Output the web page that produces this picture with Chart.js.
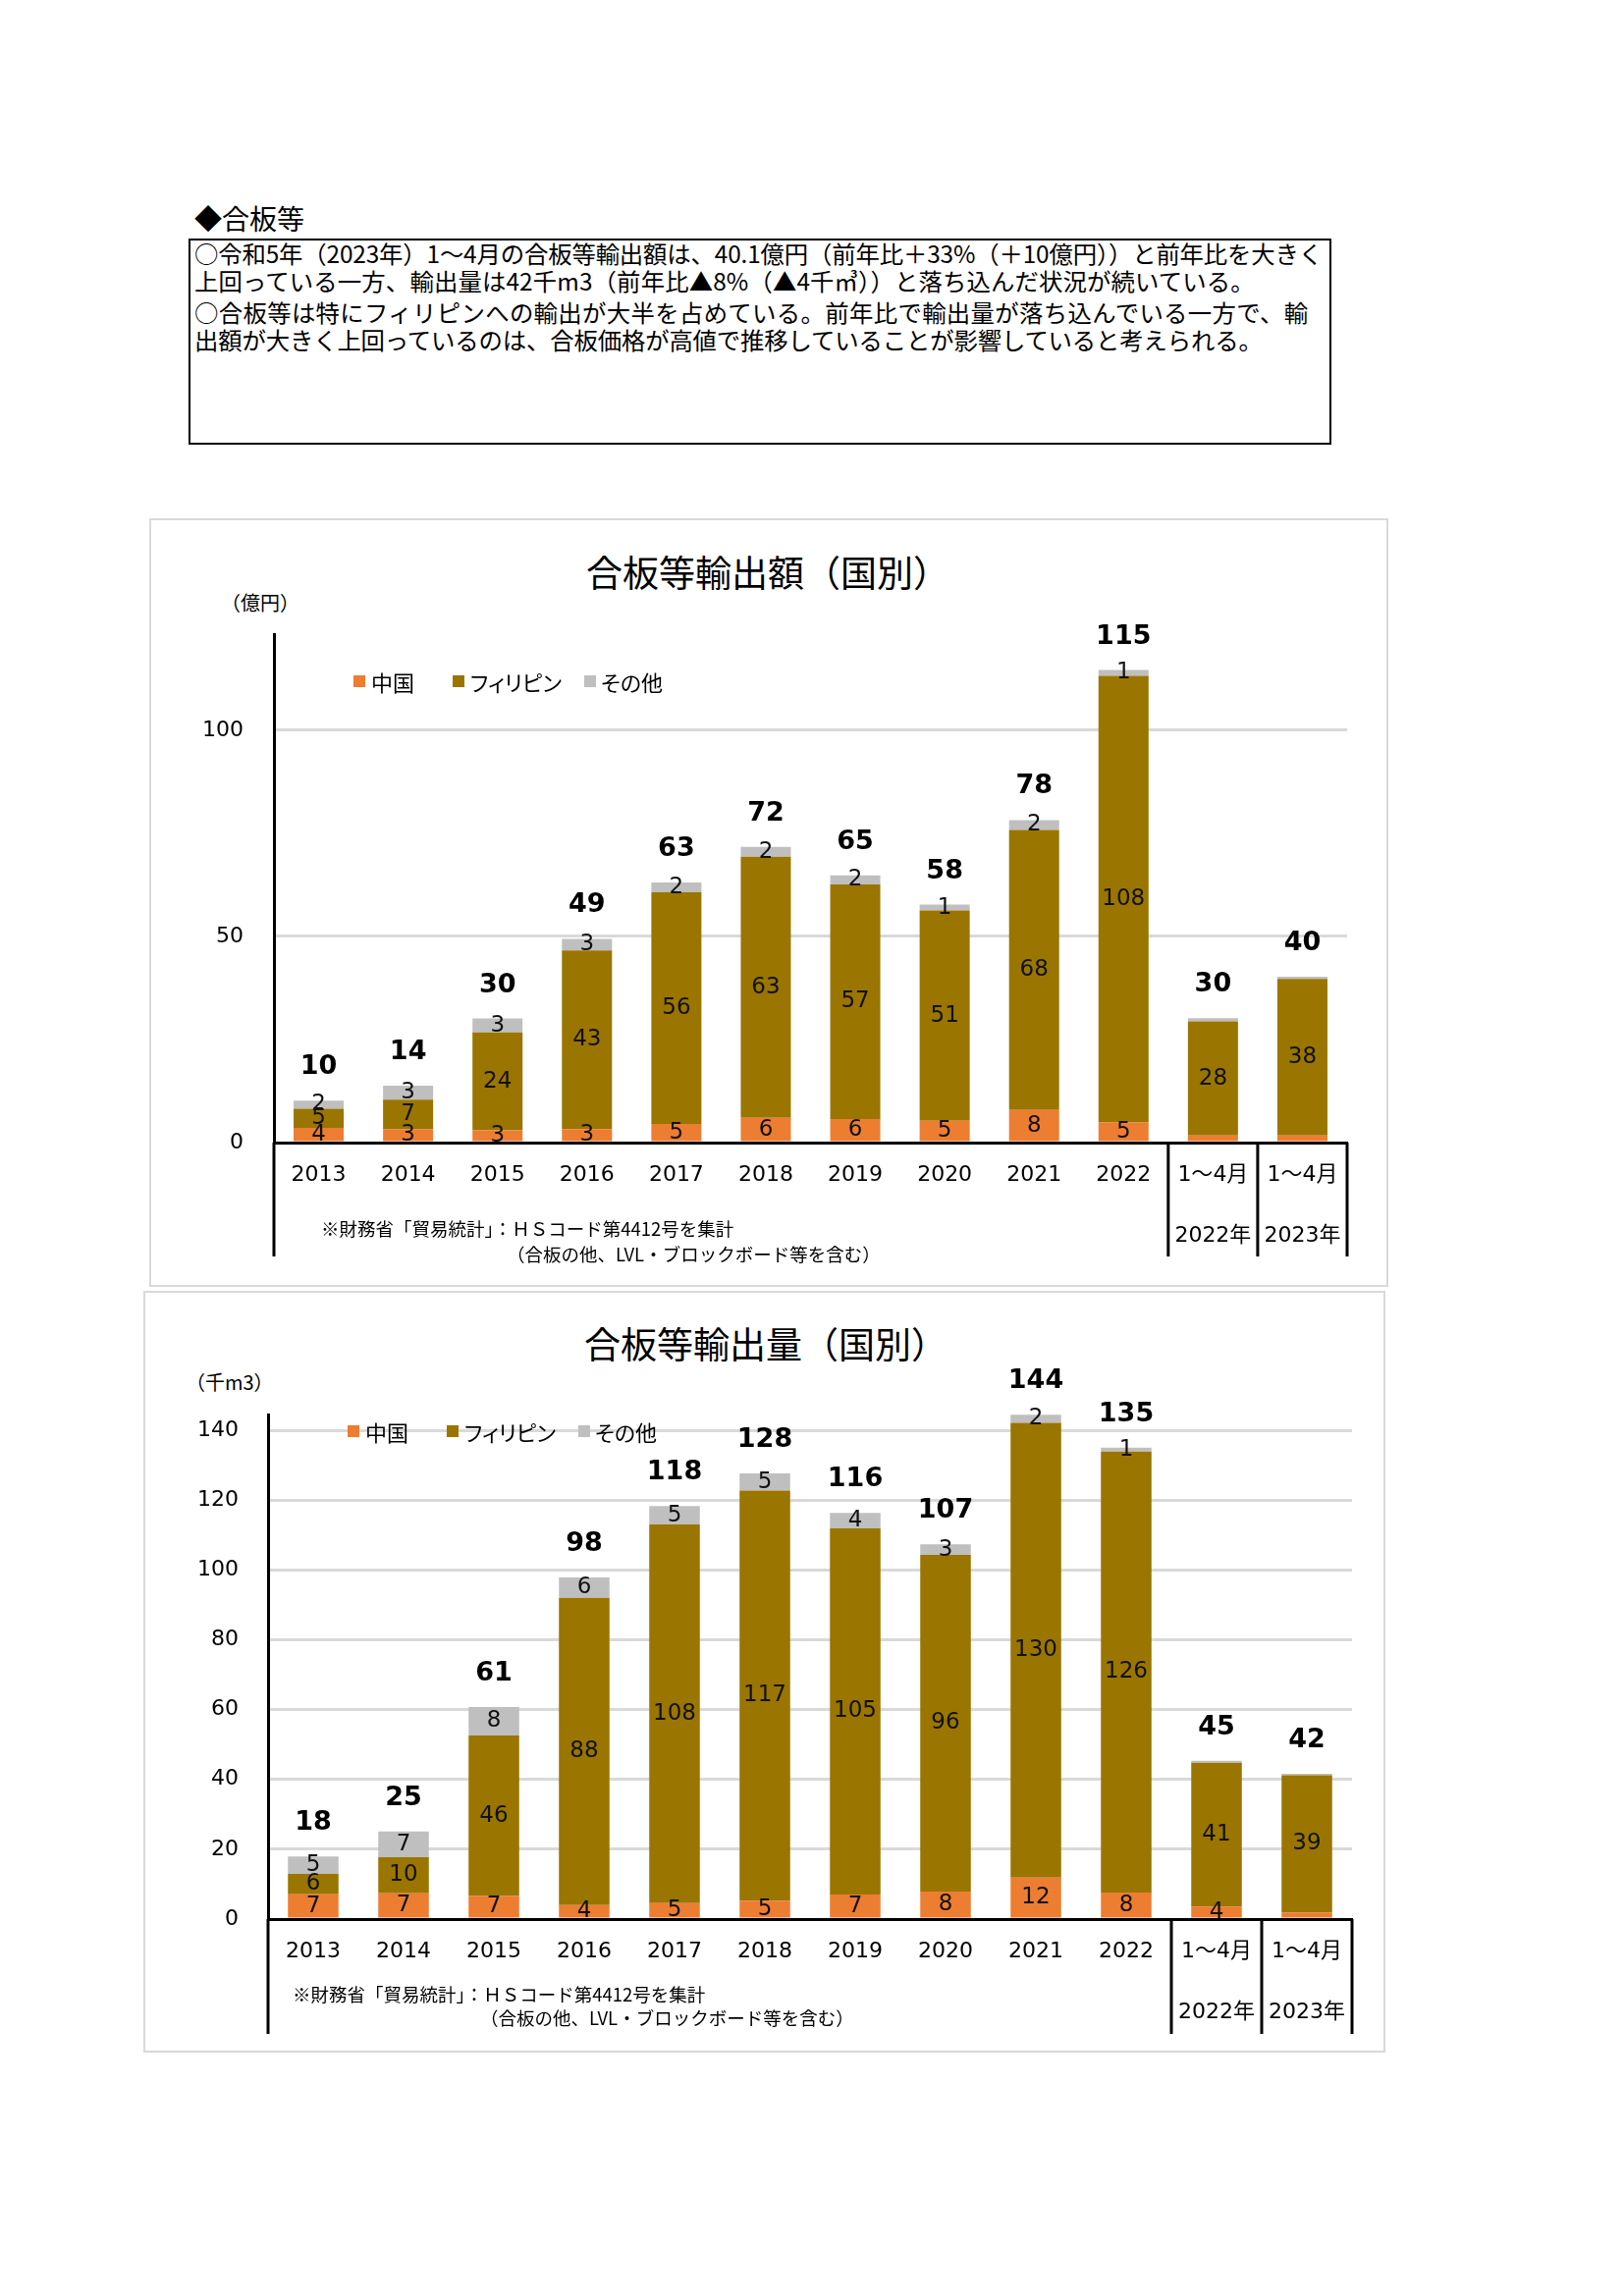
<!DOCTYPE html>
<html lang="ja"><head><meta charset="utf-8">
<script src="https://cdn.jsdelivr.net/npm/chart.js@4.4.1/dist/chart.umd.min.js"></script>
<style>
html,body{margin:0;padding:0;background:#fff;}
body{width:1654px;height:2339px;position:relative;overflow:hidden;font-family:'Noto Sans CJK JP',sans-serif;color:#000;}
.abs{position:absolute;white-space:nowrap;}
.line{position:absolute;left:198px;font-size:24.4px;line-height:30px;white-space:nowrap;}
.frame{position:absolute;border:2px solid #d9d9d9;box-sizing:border-box;}
.title{position:absolute;font-size:37px;line-height:46px;white-space:nowrap;transform:translateX(-50%);}
.unit{position:absolute;font-size:20px;line-height:26px;white-space:nowrap;}
.note{position:absolute;font-size:18.5px;line-height:24px;white-space:nowrap;}
.leg{position:absolute;font-size:22px;line-height:28px;white-space:nowrap;font-feature-settings:"palt";}
.legm{position:absolute;width:12px;height:12px;}
canvas{position:absolute;}
</style></head><body>

<div class="abs" style="left:198px;top:204px;font-size:28px;line-height:36px;">◆合板等</div>
<div class="abs" style="left:192px;top:243px;width:1164px;height:210px;border:2px solid #000;box-sizing:border-box;"></div>
<div class="line" style="top:243px;letter-spacing:-0.16px;">○令和5年（2023年）1～4月の合板等輸出額は、40.1億円（前年比＋33%（＋10億円））と前年比を大きく</div>
<div class="line" style="top:271px;letter-spacing:0.12px;">上回っている一方、輸出量は42千m3（前年比▲8%（▲4千㎥））と落ち込んだ状況が続いている。</div>
<div class="line" style="top:303px;letter-spacing:0.33px;">○合板等は特にフィリピンへの輸出が大半を占めている。前年比で輸出量が落ち込んでいる一方で、輸</div>
<div class="line" style="top:331px;letter-spacing:-0.16px;">出額が大きく上回っているのは、合板価格が高値で推移していることが影響していると考えられる。</div>

<div class="frame" style="left:152px;top:528px;width:1262px;height:783px;"></div>
<div class="title" style="left:782px;top:559px;">合板等輸出額（国別）</div>
<div class="unit" style="left:225px;top:601px;">（億円）</div>
<canvas id="c1" width="1262" height="783" style="left:152px;top:528px;"></canvas>
<div id="leg1"></div>
<div class="note" style="left:327px;top:1239px;">※財務省「貿易統計」：ＨＳコード第4412号を集計</div>
<div class="note" style="left:516px;top:1265px;">（合板の他、LVL・ブロックボード等を含む）</div>

<div class="frame" style="left:146px;top:1315px;width:1265px;height:776px;"></div>
<div class="title" style="left:780px;top:1345px;">合板等輸出量（国別）</div>
<div class="unit" style="left:189px;top:1395px;">（千m3）</div>
<canvas id="c2" width="1265" height="776" style="left:146px;top:1315px;"></canvas>
<div id="leg2"></div>
<div class="note" style="left:298px;top:2019px;">※財務省「貿易統計」：ＨＳコード第4412号を集計</div>
<div class="note" style="left:489px;top:2043px;">（合板の他、LVL・ブロックボード等を含む）</div>

<script>
// ---- data ----
const categories = ['2013','2014','2015','2016','2017','2018','2019','2020','2021','2022',['1～4月','2022年'],['1～4月','2023年']];
const seriesNames = ['中国','フィリピン','その他'];

// 輸出額（億円）
const valueChina = [3.6, 3.2, 3.0, 3.3, 4.5, 6.0, 5.7, 5.3, 7.9, 4.9, 1.7, 1.7];
const valuePhilippines = [4.6, 7.2, 23.7, 43.3, 56.2, 63.3, 56.9, 51.0, 67.9, 108.3, 27.7, 38.0];
const valueOther = [2.0, 3.4, 3.4, 2.8, 2.4, 2.4, 2.2, 1.4, 2.4, 1.4, 0.8, 0.5];
const valueTicks = [0, 50, 100];

// 輸出量（千m3）
const volumeChina = [7.1, 7.4, 6.6, 4.0, 4.6, 5.3, 7.0, 7.9, 11.9, 7.6, 3.6, 1.8];
const volumePhilippines = [5.8, 10.3, 46.0, 88.0, 108.4, 117.4, 104.9, 96.4, 130.2, 126.3, 41.2, 39.4];
const volumeOther = [5.0, 7.4, 8.1, 5.8, 5.3, 4.9, 4.4, 3.0, 2.3, 1.1, 0.5, 0.4];
const volumeTicks = [0, 20, 40, 60, 80, 100, 120, 140];

// ---- styles ----
const colors = ['#ED7D31', '#9A7500', '#BFBFBF'];
const numFont = '"DejaVu Sans", "Noto Sans CJK JP", sans-serif';

const stackLabels = {
  id: 'stackLabels',
  afterDraw(chart, args, opts) {
    const {ctx, chartArea} = chart;
    const xs = chart.scales.x, ys = chart.scales.y;
    const half = (xs.getPixelForValue(1) - xs.getPixelForValue(0)) / 2;
    ctx.save();
    ctx.strokeStyle = '#000';
    ctx.lineWidth = 3;
    ctx.beginPath();
    ctx.moveTo(chartArea.left, chartArea.bottom);
    ctx.lineTo(chartArea.left, xs.bottom);
    opts.separators.forEach(i => {
      const px = xs.getPixelForValue(i) + half;
      ctx.moveTo(px, chartArea.bottom);
      ctx.lineTo(px, xs.bottom);
    });
    ctx.stroke();

    ctx.textAlign = 'center';
    ctx.textBaseline = 'middle';
    ctx.fillStyle = '#111';
    ctx.font = '23px ' + numFont;
    chart.data.datasets.forEach((ds, di) => {
      const meta = chart.getDatasetMeta(di);
      meta.data.forEach((el, i) => {
        if (ds.hideLabels && ds.hideLabels.includes(i)) return;
        ctx.fillText(String(Math.round(ds.data[i])), el.x, (el.y + el.base) / 2);
      });
    });

    ctx.fillStyle = '#000';
    ctx.font = 'bold 27px ' + numFont;
    chart.data.labels.forEach((lab, i) => {
      let sum = 0;
      chart.data.datasets.forEach(ds => { sum += ds.data[i]; });
      ctx.fillText(String(Math.round(sum)), xs.getPixelForValue(i), ys.getPixelForValue(sum) - 34);
    });
    ctx.restore();
  }
};

function makeChart(id, series, hides, yMax, ticks, layout) {
  return new Chart(document.getElementById(id), {
    type: 'bar',
    data: {
      labels: categories,
      datasets: series.map((d, k) => ({
        label: seriesNames[k],
        data: d,
        backgroundColor: colors[k],
        borderWidth: 0,
        barPercentage: 0.56,
        categoryPercentage: 1,
        hideLabels: hides[k]
      }))
    },
    options: {
      responsive: false,
      animation: false,
      events: [],
      layout: {padding: layout.padding},
      plugins: {legend: {display: false}, tooltip: {enabled: false}, stackLabels: {separators: [9, 10, 11]}},
      scales: {
        x: {
          stacked: true,
          offset: true,
          grid: {display: false, drawTicks: false},
          border: {display: true, color: '#000', width: 3, z: 1},
          ticks: {color: '#000', font: {family: numFont, size: 22, lineHeight: '62px'}, padding: 2, maxRotation: 0, minRotation: 0, autoSkip: false},
          afterFit: s => { s.height = layout.xHeight; }
        },
        y: {
          stacked: true,
          min: 0,
          max: yMax,
          grid: {color: '#D9D9D9', lineWidth: 3, drawTicks: false},
          border: {display: true, color: '#000', width: 3, z: 1},
          ticks: {color: '#000', font: {family: numFont, size: 22}, padding: layout.tickPad},
          afterBuildTicks: s => { s.ticks = ticks.map(v => ({value: v})); },
          afterFit: s => { s.width = 127; }
        }
      }
    },
    plugins: [stackLabels]
  });
}

makeChart('c1', [valueChina, valuePhilippines, valueOther], [[10, 11], [], [10, 11]], 123.3, valueTicks,
  {padding: {left: 0, top: 118, right: 42, bottom: 31}, xHeight: 116, tickPad: 31});
makeChart('c2', [volumeChina, volumePhilippines, volumeOther], [[11], [], [10, 11]], 144.5, volumeTicks,
  {padding: {left: 0, top: 126, right: 34, bottom: 19}, xHeight: 117, tickPad: 30});

function buildLegend(id, cy, pos) {
  const host = document.getElementById(id);
  seriesNames.forEach((name, k) => {
    const m = document.createElement('div');
    m.className = 'legm';
    m.style.left = pos[k][0] + 'px';
    m.style.top = (cy - 6) + 'px';
    m.style.background = colors[k];
    host.appendChild(m);
    const t = document.createElement('div');
    t.className = 'leg';
    t.style.left = pos[k][1] + 'px';
    t.style.top = (cy - 14) + 'px';
    t.textContent = name;
    host.appendChild(t);
  });
}
buildLegend('leg1', 694, [[360, 378], [461, 479], [595, 612]]);
buildLegend('leg2', 1458, [[354, 372], [455, 473], [589, 606]]);
</script>
</body></html>
